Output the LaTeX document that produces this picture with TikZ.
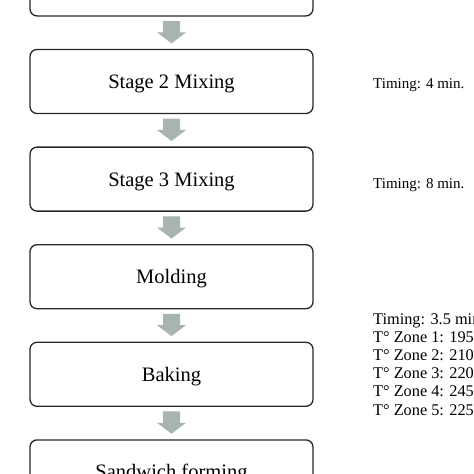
\documentclass[tikz,border=0pt]{standalone}
\usepackage{fontspec}
\setmainfont{Liberation Serif}
\usetikzlibrary{calc}
\definecolor{arrowc}{RGB}{168,180,178}
\definecolor{boxline}{RGB}{40,40,40}
\tikzset{
  stagebox/.style={draw=boxline, line width=1.3pt, rounded corners=7pt, fill=white,
    minimum width=283pt, minimum height=64pt, inner sep=0pt,
    text height=14pt, text depth=0pt, font=\fontsize{20.5}{24}\selectfont},
  note/.style={anchor=base west, inner sep=0pt, font=\fontsize{15}{18}\selectfont},
  bignote/.style={note, font=\fontsize{16.3}{18}\selectfont},
  flowarrow/.style={fill=arrowc, draw=none}
}
\newcommand\flowarr[2]{%
  \fill[flowarrow] ($(#1.south)+(-8.5,4.5)$) -- ($(#1.south)+(8.5,4.5)$)
    -- ($(#2.north)+(8.5,-16.5)$) -- ($(#2.north)+(14.5,-16.5)$)
    -- ($(#2.north)+(0,-5.5)$) -- ($(#2.north)+(-14.5,-16.5)$)
    -- ($(#2.north)+(-8.5,-16.5)$) -- cycle;}
\begin{document}
\begin{tikzpicture}[x=1pt,y=-1pt]
\useasboundingbox (0,0) rectangle (474,474);
\clip (0,0) rectangle (474,474);
\fill[white] (0,0) rectangle (474,474);
\node[stagebox] (s1) at (171.5,-16.1) {};
\node[stagebox] (s2) at (171.5,81.5) {Stage 2 Mixing};
\node[stagebox] (s3) at (171.5,179.1) {Stage 3 Mixing};
\node[stagebox] (s4) at (171.5,276.7) {Molding};
\node[stagebox] (s5) at (171.5,374.3) {Baking};
\node[stagebox] (s6) at (171.5,471.9) {Sandwich forming};
\flowarr{s1}{s2}
\flowarr{s2}{s3}
\flowarr{s3}{s4}
\flowarr{s4}{s5}
\flowarr{s5}{s6}
\node[note] (t2) at (373,88) {Timing: 4 min.};
\node[note] (t3) at (373,188) {Timing: 8 min.};
\node[bignote] (b0) at (373,324) {Timing: 3.5 min.};
\node[bignote] (b1) at (373,342.2) {T° Zone 1: 195};
\node[bignote] (b2) at (373,360.4) {T° Zone 2: 210};
\node[bignote] (b3) at (373,378.6) {T° Zone 3: 220};
\node[bignote] (b4) at (373,396.8) {T° Zone 4: 245};
\node[bignote] (b5) at (373,415) {T° Zone 5: 225};
\end{tikzpicture}
\end{document}
